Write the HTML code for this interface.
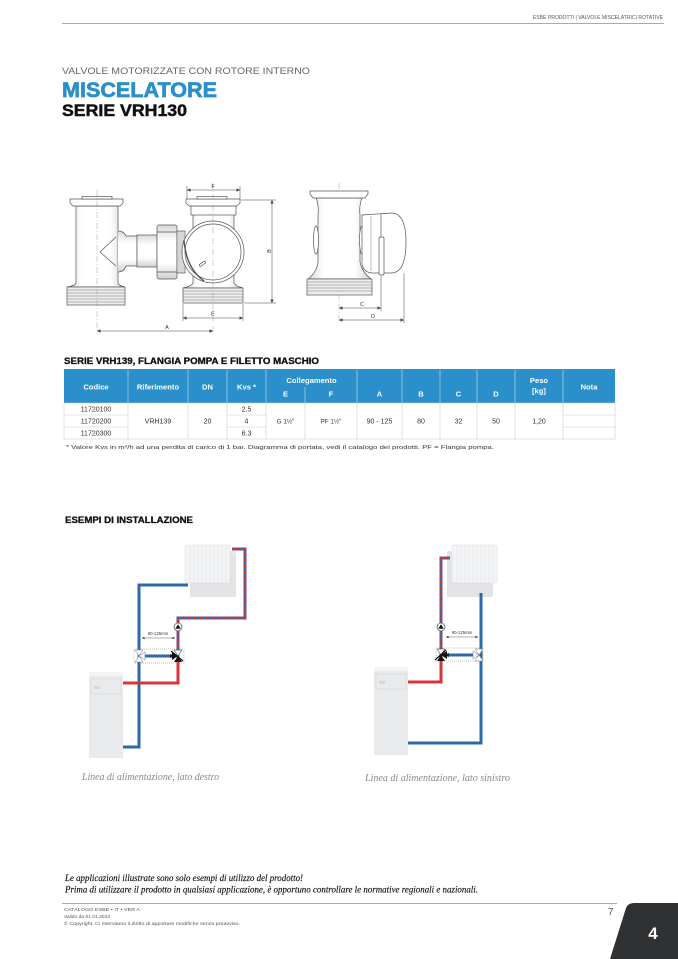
<!DOCTYPE html>
<html><head><meta charset="utf-8">
<style>
html,body{margin:0;padding:0;background:#fff;}
svg{display:block;}
</style></head><body>
<svg width="678" height="959" viewBox="0 0 678 959" xmlns="http://www.w3.org/2000/svg" font-family="Liberation Sans, sans-serif">
<defs>
<marker id="ar" viewBox="0 0 6 6" refX="6" refY="3" markerUnits="userSpaceOnUse" markerWidth="4.5" markerHeight="3.5" orient="auto-start-reverse"><path d="M0,0 L6,3 L0,6 z" fill="#444"/></marker>
<marker id="ar2" viewBox="0 0 6 6" refX="6" refY="3" markerUnits="userSpaceOnUse" markerWidth="3" markerHeight="2.5" orient="auto-start-reverse"><path d="M0,0 L6,3 L0,6 z" fill="#333"/></marker>
<linearGradient id="pipeg" x1="0" y1="0" x2="1" y2="0">
<stop offset="0" stop-color="#d8d8d8"/><stop offset="0.25" stop-color="#fff"/><stop offset="0.75" stop-color="#fff"/><stop offset="1" stop-color="#d0d0d0"/>
</linearGradient>
<linearGradient id="pipegv" x1="0" y1="0" x2="0" y2="1">
<stop offset="0" stop-color="#d8d8d8"/><stop offset="0.3" stop-color="#fff"/><stop offset="0.7" stop-color="#fff"/><stop offset="1" stop-color="#d0d0d0"/>
</linearGradient>
</defs>

<!-- Header -->
<text x="533" y="19" font-size="5.5" fill="#555" textLength="130" lengthAdjust="spacingAndGlyphs">ESBE PRODOTTI | VALVOLE MISCELATRICI ROTATIVE</text>
<line x1="62" y1="23.5" x2="664" y2="23.5" stroke="#aaa" stroke-width="1"/>

<!-- Titles -->
<text x="62" y="74" font-size="9.5" fill="#666" textLength="248" lengthAdjust="spacingAndGlyphs">VALVOLE MOTORIZZATE CON ROTORE INTERNO</text>
<text x="62" y="97" font-size="21.5" font-weight="bold" fill="#2a8fcb" stroke="#2a8fcb" stroke-width="0.7" textLength="155" lengthAdjust="spacingAndGlyphs">MISCELATORE</text>
<text x="62" y="116" font-size="17" font-weight="bold" fill="#111" stroke="#111" stroke-width="0.5" textLength="125" lengthAdjust="spacingAndGlyphs">SERIE VRH130</text>

<!-- Technical drawing: front view -->
<g stroke="#555" stroke-width="0.7" fill="#fff">
  <path d="M76,206 L118,206 L118,283 Q119,286 125,287 L67,287 Q75,286 76,283 Z" fill="url(#pipeg)"/>
  <path d="M70,199 h53 v4 l-3,3 h-47 l-3,-3 z"/>
  <rect x="82" y="196.5" width="30" height="2.5"/>
  <rect x="67" y="287" width="58" height="18" fill="#eee"/>
  <g stroke="#777" stroke-width="0.5"><line x1="67" y1="290" x2="125" y2="290"/><line x1="67" y1="293" x2="125" y2="293"/><line x1="67" y1="296" x2="125" y2="296"/><line x1="67" y1="299" x2="125" y2="299"/><line x1="67" y1="302" x2="125" y2="302"/></g>
  <path d="M118,231 Q124,231 126,236 L137,236 L137,266 L126,266 Q124,272 118,272" fill="url(#pipegv)"/>
  <path d="M116,237 L100,252 L116,266" fill="none"/>
  <rect x="137" y="235" width="20" height="32" fill="url(#pipegv)"/>
  <rect x="157" y="225" width="20" height="54" rx="2" fill="url(#pipegv)"/>
  <line x1="157" y1="232" x2="177" y2="232"/><line x1="157" y1="272" x2="177" y2="272"/>
  <rect x="177" y="231" width="8" height="42" fill="#eee"/>
  <g stroke="#777" stroke-width="0.4"><line x1="179" y1="231" x2="179" y2="273"/><line x1="181" y1="231" x2="181" y2="273"/><line x1="183" y1="231" x2="183" y2="273"/></g>
  <path d="M193,214 L234,214 L234,283 Q235,286 243,288 L183,288 Q192,286 193,283 Z" fill="url(#pipeg)"/>
  <rect x="191" y="206" width="45" height="9"/>
  <path d="M186,199 h54 v4 l-3,3 h-48 l-3,-3 z"/>
  <rect x="197" y="196.5" width="30" height="2.5"/>
  <rect x="183" y="288" width="60" height="15" fill="#eee"/>
  <g stroke="#777" stroke-width="0.5"><line x1="183" y1="291" x2="243" y2="291"/><line x1="183" y1="294" x2="243" y2="294"/><line x1="183" y1="297" x2="243" y2="297"/><line x1="183" y1="300" x2="243" y2="300"/></g>
  <circle cx="213" cy="252" r="31"/>
  <circle cx="213" cy="252" r="28"/>
  <rect x="199" y="263" width="7" height="2.2" rx="1" transform="rotate(-35 202 264)"/>
  <path d="M184,240 Q186,268 204,281" fill="none" stroke-width="1.4"/>
</g>
<g stroke="#888" stroke-width="0.4" stroke-dasharray="6,2,1,2">
  <line x1="97" y1="190" x2="97" y2="334"/>
  <line x1="213" y1="183" x2="213" y2="334"/>
  <line x1="339" y1="183" x2="339" y2="323"/>
</g>
<g stroke="#444" stroke-width="0.5" fill="none">
  <line x1="187" y1="186" x2="187" y2="199"/><line x1="240" y1="186" x2="240" y2="199"/>
  <line x1="187" y1="190" x2="240" y2="190" marker-start="url(#ar)" marker-end="url(#ar)"/>
  <line x1="241" y1="200" x2="276" y2="200"/><line x1="244" y1="303" x2="276" y2="303"/>
  <line x1="272" y1="200" x2="272" y2="303" marker-start="url(#ar)" marker-end="url(#ar)"/>
  <line x1="183" y1="304" x2="183" y2="321"/><line x1="243" y1="304" x2="243" y2="321"/>
  <line x1="183" y1="318" x2="243" y2="318" marker-start="url(#ar)" marker-end="url(#ar)"/>
  <line x1="97" y1="331" x2="213" y2="331" marker-start="url(#ar)" marker-end="url(#ar)"/>
</g>
<g font-size="5.5" fill="#333" text-anchor="middle">
  <text x="213" y="188">F</text>
  <text x="269" y="253" transform="rotate(-90 269 251)">B</text>
  <text x="213" y="315.5">E</text>
  <text x="167" y="329">A</text>
</g>

<!-- side view -->
<g stroke="#555" stroke-width="0.7" fill="#fff">
  <path d="M316,198 L362,198 Q359,205 360,215 L360,262 Q362,272 371,279 L308,279 Q317,272 318,262 L318,215 Q319,205 316,198 Z" fill="url(#pipeg)"/>
  <path d="M310,191 h58 v3 l-3,4 h-52 l-3,-4 z"/>
  <ellipse cx="316" cy="240" rx="2.5" ry="14"/>
  <ellipse cx="362" cy="240" rx="2.5" ry="14"/>
  <rect x="307" y="279" width="65" height="16" fill="#eee"/>
  <g stroke="#777" stroke-width="0.5"><line x1="307" y1="282" x2="372" y2="282"/><line x1="307" y1="285" x2="372" y2="285"/><line x1="307" y1="288" x2="372" y2="288"/><line x1="307" y1="291" x2="372" y2="291"/></g>
  <path d="M362,215 L392,213 Q406,214 406,242 Q406,272 392,273 L372,273 Q362,272 362,262 Z"/>
  <line x1="381" y1="214" x2="381" y2="273"/>
  <line x1="371" y1="216" x2="371" y2="271" stroke-width="0.4"/>
  <rect x="379" y="237" width="5" height="38" rx="1.5"/>
</g>
<g stroke="#444" stroke-width="0.5" fill="none">
  <line x1="381" y1="276" x2="381" y2="311"/>
  <line x1="339" y1="308" x2="381" y2="308" marker-start="url(#ar)" marker-end="url(#ar)"/>
  <line x1="404" y1="273" x2="404" y2="323"/>
  <line x1="339" y1="320" x2="404" y2="320" marker-start="url(#ar)" marker-end="url(#ar)"/>
</g>
<g font-size="5.5" fill="#333" text-anchor="middle">
  <text x="362" y="306">C</text>
  <text x="373" y="318">D</text>
</g>

<!-- Table -->
<text x="64" y="364" font-size="9" font-weight="bold" fill="#111" stroke="#111" stroke-width="0.3" textLength="255" lengthAdjust="spacingAndGlyphs">SERIE VRH139, FLANGIA POMPA E FILETTO MASCHIO</text>
<rect x="64" y="369" width="551" height="34" fill="#2a8fcb"/>
<g stroke="#ffffff" stroke-opacity="0.55" stroke-width="0.8">
  <line x1="128" y1="369" x2="128" y2="403"/><line x1="188" y1="369" x2="188" y2="403"/>
  <line x1="227" y1="369" x2="227" y2="403"/><line x1="266" y1="369" x2="266" y2="403"/>
  <line x1="305" y1="387" x2="305" y2="403"/><line x1="357" y1="369" x2="357" y2="403"/>
  <line x1="402" y1="369" x2="402" y2="403"/><line x1="440" y1="369" x2="440" y2="403"/>
  <line x1="477" y1="369" x2="477" y2="403"/><line x1="515" y1="369" x2="515" y2="403"/>
  <line x1="563" y1="369" x2="563" y2="403"/>
</g>
<g font-size="7.6" font-weight="bold" fill="#fff" text-anchor="middle">
  <text x="96" y="389.5">Codice</text>
  <text x="158" y="389.5">Riferimento</text>
  <text x="207.5" y="389.5">DN</text>
  <text x="246.5" y="389.5">Kvs *</text>
  <text x="311.5" y="383">Collegamento</text>
  <text x="285.5" y="396.5">E</text>
  <text x="331" y="396.5">F</text>
  <text x="379.5" y="396.5">A</text>
  <text x="421" y="396.5">B</text>
  <text x="458.5" y="396.5">C</text>
  <text x="496" y="396.5">D</text>
  <text x="539" y="383">Peso</text>
  <text x="539" y="393.5">[kg]</text>
  <text x="589" y="389.5">Nota</text>
</g>
<rect x="64" y="403" width="551" height="36" fill="#fff" stroke="#c5ccd3" stroke-width="0.6"/>
<g stroke="#c5ccd3" stroke-width="0.6">
  <line x1="128" y1="403" x2="128" y2="439"/><line x1="188" y1="403" x2="188" y2="439"/>
  <line x1="227" y1="403" x2="227" y2="439"/><line x1="266" y1="403" x2="266" y2="439"/>
  <line x1="305" y1="403" x2="305" y2="439"/><line x1="357" y1="403" x2="357" y2="439"/>
  <line x1="402" y1="403" x2="402" y2="439"/><line x1="440" y1="403" x2="440" y2="439"/>
  <line x1="477" y1="403" x2="477" y2="439"/><line x1="515" y1="403" x2="515" y2="439"/>
  <line x1="563" y1="403" x2="563" y2="439"/>
  <line x1="64" y1="415" x2="128" y2="415"/><line x1="64" y1="427" x2="128" y2="427"/>
  <line x1="227" y1="415" x2="266" y2="415"/><line x1="227" y1="427" x2="266" y2="427"/>
  <line x1="563" y1="415" x2="615" y2="415"/><line x1="563" y1="427" x2="615" y2="427"/>
</g>
<g font-size="7" fill="#333" text-anchor="middle">
  <text x="96" y="411.5">11720100</text>
  <text x="96" y="423.5">11720200</text>
  <text x="96" y="435.5">11720300</text>
  <text x="246.5" y="411.5">2.5</text>
  <text x="246.5" y="423.5">4</text>
  <text x="246.5" y="435.5">6.3</text>
  <text x="158" y="423.5">VRH139</text>
  <text x="207.5" y="423.5">20</text>
  <text x="285.5" y="423.5" font-size="6.3">G 1½"</text>
  <text x="331" y="423.5" font-size="6.3">PF 1½"</text>
  <text x="379.5" y="423.5">90 - 125</text>
  <text x="421" y="423.5">80</text>
  <text x="458.5" y="423.5">32</text>
  <text x="496" y="423.5">50</text>
  <text x="539" y="423.5">1,20</text>
</g>
<text x="66" y="449" font-size="5.5" fill="#333" textLength="428" lengthAdjust="spacingAndGlyphs">* Valore Kvs in m³/h ad una perdita di carico di 1 bar. Diagramma di portata, vedi il catalogo dei prodotti.    PF = Flangia pompa.</text>

<!-- Esempi di installazione -->
<text x="65" y="523" font-size="9" font-weight="bold" fill="#111" stroke="#111" stroke-width="0.3" textLength="128" lengthAdjust="spacingAndGlyphs">ESEMPI DI INSTALLAZIONE</text>

<!-- Left example -->
<g>
  <rect x="190" y="551" width="46" height="46" rx="1.5" fill="#e2e3e5"/>
  <rect x="185" y="545" width="45" height="38" rx="1.5" fill="#f3f4f5" stroke="#dcdcde" stroke-width="0.5"/>
  <g stroke="#e0e1e3" stroke-width="0.6">
    <line x1="190" y1="546" x2="190" y2="582"/><line x1="194" y1="546" x2="194" y2="582"/><line x1="198" y1="546" x2="198" y2="582"/><line x1="202" y1="546" x2="202" y2="582"/><line x1="206" y1="546" x2="206" y2="582"/><line x1="210" y1="546" x2="210" y2="582"/><line x1="214" y1="546" x2="214" y2="582"/><line x1="218" y1="546" x2="218" y2="582"/><line x1="222" y1="546" x2="222" y2="582"/><line x1="226" y1="546" x2="226" y2="582"/>
  </g>
  <rect x="231" y="552" width="4" height="4" fill="#e8e8ea"/>
  <rect x="89" y="672" width="34" height="86" fill="#e9eaec"/>
  <rect x="89" y="672" width="34" height="4" fill="#f4f4f5"/>
  <rect x="91" y="679" width="30" height="15" fill="none" stroke="#d4d5d8" stroke-width="0.6"/>
  <rect x="94" y="686" width="6" height="3" fill="#d6d7da"/>
  <g fill="none" stroke-width="3" stroke-linejoin="miter">
    <path d="M188,585 L139,585 L139,747 L123,747" stroke="#2d68ae"/>
    <path d="M139,656 L172,656" stroke="#2d68ae"/>
    <path d="M123,683 L178,683 L178,656" stroke="#d6353c"/>
    <path d="M232,549 L245,549 L245,618 L178,618 L178,656" stroke="#2d68ae"/>
    <path d="M232,549 L245,549 L245,618 L178,618 L178,656" stroke="#d6353c" stroke-dasharray="1.5,1.5"/>
  </g>
  <path d="M170,654 L175,656 L170,658 z" fill="#222"/>
  <rect x="134" y="649" width="50" height="14" fill="none" stroke="#888" stroke-width="0.5" stroke-dasharray="1,1"/>
  <g fill="#fff" stroke="#777" stroke-width="0.5">
    <path d="M135,650 L143,650 L139,656 z"/><path d="M135,662 L143,662 L139,656 z"/>
    <path d="M145,652 L145,660 L139,656 z"/>
  </g>
  <path d="M174,650 L182,650 L178,656 z" fill="#fff" stroke="#222" stroke-width="0.5"/>
  <path d="M172,652 L172,660 L178,656 z" fill="#111"/>
  <path d="M174,662 L182,662 L178,656 z" fill="#111"/>
  <path d="M171,651 L183,661" stroke="#111" stroke-width="1.2"/>
  <circle cx="178" cy="627" r="4" fill="#fff" stroke="#222" stroke-width="0.6"/>
  <path d="M175.3,628.8 L180.7,628.8 L178,624.3 z" fill="#111"/>
  <line x1="142" y1="638" x2="175" y2="638" stroke="#333" stroke-width="0.4" marker-start="url(#ar2)" marker-end="url(#ar2)"/>
  <text x="158" y="635" font-size="4.3" fill="#333" text-anchor="middle">90-125mm</text>
</g>
<text x="82" y="780" font-family="Liberation Serif, serif" font-style="italic" font-size="10" fill="#888" textLength="137" lengthAdjust="spacingAndGlyphs">Linea di alimentazione, lato destro</text>

<!-- Right example -->
<g>
  <rect x="447" y="551" width="46" height="46" rx="1.5" fill="#e2e3e5"/>
  <rect x="452" y="545" width="45" height="38" rx="1.5" fill="#f3f4f5" stroke="#dcdcde" stroke-width="0.5"/>
  <g stroke="#e0e1e3" stroke-width="0.6">
    <line x1="457" y1="546" x2="457" y2="582"/><line x1="461" y1="546" x2="461" y2="582"/><line x1="465" y1="546" x2="465" y2="582"/><line x1="469" y1="546" x2="469" y2="582"/><line x1="473" y1="546" x2="473" y2="582"/><line x1="477" y1="546" x2="477" y2="582"/><line x1="481" y1="546" x2="481" y2="582"/><line x1="485" y1="546" x2="485" y2="582"/><line x1="489" y1="546" x2="489" y2="582"/><line x1="493" y1="546" x2="493" y2="582"/>
  </g>
  <rect x="374" y="667" width="34" height="88" fill="#e9eaec"/>
  <rect x="374" y="667" width="34" height="4" fill="#f4f4f5"/>
  <rect x="376" y="674" width="30" height="15" fill="none" stroke="#d4d5d8" stroke-width="0.6"/>
  <rect x="379" y="681" width="6" height="3" fill="#d6d7da"/>
  <g fill="none" stroke-width="3">
    <path d="M481,593 L481,743 L408,743" stroke="#2d68ae"/>
    <path d="M479,655 L447,655" stroke="#2d68ae"/>
    <path d="M408,682 L441,682 L441,655" stroke="#d6353c"/>
    <path d="M450,558 L441,558 L441,655" stroke="#2d68ae"/>
    <path d="M450,558 L441,558 L441,655" stroke="#d6353c" stroke-dasharray="1.5,1.5"/>
  </g>
  <path d="M449,653 L444,655 L449,657 z" fill="#222"/>
  <rect x="436" y="648" width="47" height="13" fill="none" stroke="#888" stroke-width="0.5" stroke-dasharray="1,1"/>
  <g fill="#fff" stroke="#777" stroke-width="0.5">
    <path d="M475,649 L483,649 L479,655 z"/><path d="M475,661 L483,661 L479,655 z"/>
    <path d="M473,651 L473,659 L479,655 z"/>
  </g>
  <path d="M437,649 L445,649 L441,655 z" fill="#fff" stroke="#222" stroke-width="0.5"/>
  <path d="M447,651 L447,659 L441,655 z" fill="#111"/>
  <path d="M437,661 L445,661 L441,655 z" fill="#111"/>
  <path d="M446,650 L435,660" stroke="#111" stroke-width="1.2"/>
  <circle cx="441" cy="627" r="4" fill="#fff" stroke="#222" stroke-width="0.6"/>
  <path d="M438.3,628.8 L443.7,628.8 L441,624.3 z" fill="#111"/>
  <line x1="446" y1="637" x2="478" y2="637" stroke="#333" stroke-width="0.4" marker-start="url(#ar2)" marker-end="url(#ar2)"/>
  <text x="462" y="634" font-size="4.3" fill="#333" text-anchor="middle">90-125mm</text>
</g>
<text x="365" y="781" font-family="Liberation Serif, serif" font-style="italic" font-size="10" fill="#888" textLength="145" lengthAdjust="spacingAndGlyphs">Linea di alimentazione, lato sinistro</text>

<!-- Footer -->
<text x="65" y="881" font-family="Liberation Serif, serif" font-style="italic" font-size="9.5" fill="#111" stroke="#111" stroke-width="0.15" textLength="238" lengthAdjust="spacingAndGlyphs">Le applicazioni illustrate sono solo esempi di utilizzo del prodotto!</text>
<text x="65" y="892.5" font-family="Liberation Serif, serif" font-style="italic" font-size="9.5" fill="#111" stroke="#111" stroke-width="0.15" textLength="413" lengthAdjust="spacingAndGlyphs">Prima di utilizzare il prodotto in qualsiasi applicazione, è opportuno controllare le normative regionali e nazionali.</text>
<line x1="62" y1="903.5" x2="617" y2="903.5" stroke="#aaa" stroke-width="1"/>
<text x="64" y="911" font-size="4.8" fill="#555" textLength="76" lengthAdjust="spacingAndGlyphs">CATALOGO ESBE • IT • VER A</text>
<text x="64" y="918" font-size="4.8" fill="#555" textLength="46" lengthAdjust="spacingAndGlyphs">Valido da 01.01.2023</text>
<text x="64" y="925" font-size="4.8" fill="#555" textLength="176" lengthAdjust="spacingAndGlyphs">© Copyright. Ci riserviamo il diritto di apportare modifiche senza preavviso.</text>
<text x="608" y="915" font-size="10" fill="#555">7</text>
<path d="M610,959 L626,908 Q628,903 634,903 L678,903 L678,959 Z" fill="#303133"/>
<text x="653" y="939" font-size="17" font-weight="bold" fill="#fff" text-anchor="middle">4</text>
</svg>
</body></html>
